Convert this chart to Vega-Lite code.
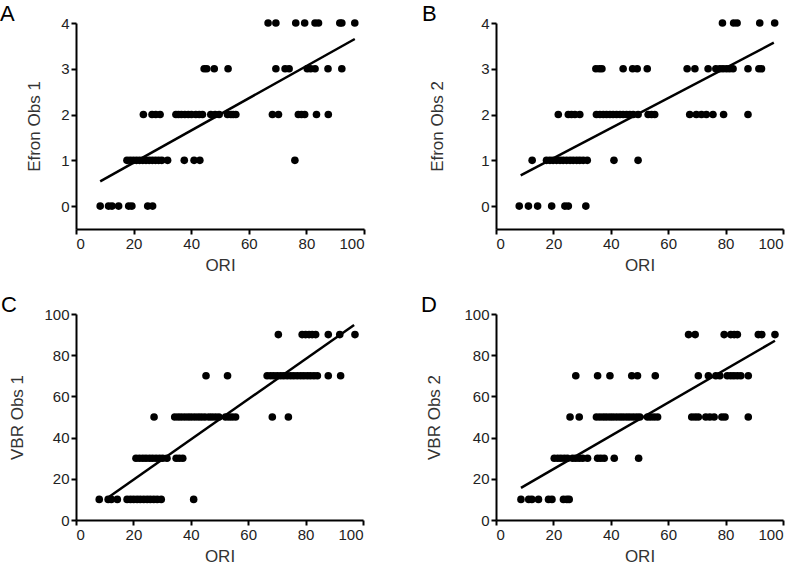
{
"$schema":"https://vega.github.io/schema/vega-lite/v6.json",
"padding":{"left":0,"top":3,"right":5,"bottom":5},
"background":"white",
"datasets":{
"A":[
{"x":66.7,"y":4},{"x":69.4,"y":4},{"x":76.3,"y":4},{"x":79.4,"y":4},{"x":83.0,"y":4},{"x":84.2,"y":4},{"x":91.6,"y":4},{"x":92.3,"y":4},{"x":96.8,"y":4},
{"x":44.5,"y":3},{"x":45.4,"y":3},{"x":48.0,"y":3},{"x":52.8,"y":3},{"x":69.4,"y":3},{"x":72.6,"y":3},{"x":74.0,"y":3},{"x":80.3,"y":3},{"x":81.5,"y":3},{"x":83.0,"y":3},{"x":87.5,"y":3},{"x":92.3,"y":3},
{"x":23.4,"y":2},{"x":26.4,"y":2},{"x":27.7,"y":2},{"x":29.2,"y":2},{"x":34.7,"y":2},{"x":35.6,"y":2},{"x":36.6,"y":2},{"x":37.8,"y":2},{"x":39.0,"y":2},{"x":40.1,"y":2},{"x":41.6,"y":2},{"x":42.8,"y":2},{"x":43.9,"y":2},{"x":46.8,"y":2},{"x":48.3,"y":2},{"x":49.7,"y":2},{"x":52.6,"y":2},{"x":53.8,"y":2},{"x":54.6,"y":2},{"x":55.5,"y":2},{"x":68.2,"y":2},{"x":70.3,"y":2},{"x":77.2,"y":2},{"x":78.3,"y":2},{"x":79.4,"y":2},{"x":83.5,"y":2},{"x":87.6,"y":2},
{"x":17.7,"y":1},{"x":18.8,"y":1},{"x":19.9,"y":1},{"x":21.0,"y":1},{"x":22.1,"y":1},{"x":23.2,"y":1},{"x":24.3,"y":1},{"x":25.4,"y":1},{"x":26.5,"y":1},{"x":27.6,"y":1},{"x":28.7,"y":1},{"x":29.8,"y":1},{"x":31.8,"y":1},{"x":37.6,"y":1},{"x":41.0,"y":1},{"x":43.0,"y":1},{"x":76.0,"y":1},
{"x":8.4,"y":0},{"x":11.3,"y":0},{"x":12.5,"y":0},{"x":14.8,"y":0},{"x":18.3,"y":0},{"x":19.4,"y":0},{"x":24.9,"y":0},{"x":26.6,"y":0}
],
"B":[
{"x":78.9,"y":4},{"x":82.8,"y":4},{"x":84.0,"y":4},{"x":91.9,"y":4},{"x":97.1,"y":4},
{"x":34.8,"y":3},{"x":36.0,"y":3},{"x":36.9,"y":3},{"x":44.3,"y":3},{"x":47.6,"y":3},{"x":49.2,"y":3},{"x":52.7,"y":3},{"x":66.6,"y":3},{"x":69.3,"y":3},{"x":73.9,"y":3},{"x":76.6,"y":3},{"x":78.0,"y":3},{"x":79.1,"y":3},{"x":80.3,"y":3},{"x":81.4,"y":3},{"x":82.6,"y":3},{"x":87.8,"y":3},{"x":91.6,"y":3},{"x":92.5,"y":3},
{"x":21.7,"y":2},{"x":25.2,"y":2},{"x":26.3,"y":2},{"x":27.5,"y":2},{"x":29.2,"y":2},{"x":35.0,"y":2},{"x":36.2,"y":2},{"x":37.4,"y":2},{"x":38.5,"y":2},{"x":39.7,"y":2},{"x":40.8,"y":2},{"x":42.0,"y":2},{"x":43.2,"y":2},{"x":44.3,"y":2},{"x":45.5,"y":2},{"x":46.6,"y":2},{"x":47.8,"y":2},{"x":49.5,"y":2},{"x":53.0,"y":2},{"x":54.2,"y":2},{"x":55.3,"y":2},{"x":67.5,"y":2},{"x":69.8,"y":2},{"x":71.6,"y":2},{"x":73.3,"y":2},{"x":75.6,"y":2},{"x":79.3,"y":2},{"x":87.8,"y":2},
{"x":12.6,"y":1},{"x":17.6,"y":1},{"x":18.8,"y":1},{"x":19.9,"y":1},{"x":21.1,"y":1},{"x":22.3,"y":1},{"x":23.4,"y":1},{"x":24.6,"y":1},{"x":25.8,"y":1},{"x":26.9,"y":1},{"x":28.1,"y":1},{"x":29.2,"y":1},{"x":30.4,"y":1},{"x":31.8,"y":1},{"x":41.1,"y":1},{"x":49.5,"y":1},
{"x":8.1,"y":0},{"x":11.3,"y":0},{"x":14.5,"y":0},{"x":19.4,"y":0},{"x":24.0,"y":0},{"x":25.2,"y":0},{"x":31.3,"y":0}
],
"C":[
{"x":70.5,"y":90},{"x":78.8,"y":90},{"x":80.0,"y":90},{"x":81.2,"y":90},{"x":82.3,"y":90},{"x":83.5,"y":90},{"x":87.9,"y":90},{"x":91.9,"y":90},{"x":97.2,"y":90},
{"x":45.3,"y":70},{"x":52.8,"y":70},{"x":66.6,"y":70},{"x":67.8,"y":70},{"x":68.9,"y":70},{"x":70.1,"y":70},{"x":71.3,"y":70},{"x":72.4,"y":70},{"x":73.6,"y":70},{"x":74.8,"y":70},{"x":75.9,"y":70},{"x":77.1,"y":70},{"x":78.3,"y":70},{"x":79.4,"y":70},{"x":80.6,"y":70},{"x":81.7,"y":70},{"x":82.9,"y":70},{"x":84.1,"y":70},{"x":87.9,"y":70},{"x":92.2,"y":70},
{"x":27.2,"y":50},{"x":34.4,"y":50},{"x":35.6,"y":50},{"x":36.7,"y":50},{"x":37.9,"y":50},{"x":39.1,"y":50},{"x":40.2,"y":50},{"x":41.4,"y":50},{"x":42.6,"y":50},{"x":43.7,"y":50},{"x":44.9,"y":50},{"x":46.3,"y":50},{"x":47.4,"y":50},{"x":48.6,"y":50},{"x":49.8,"y":50},{"x":52.1,"y":50},{"x":53.3,"y":50},{"x":54.4,"y":50},{"x":55.6,"y":50},{"x":68.4,"y":50},{"x":74.0,"y":50},
{"x":20.9,"y":30},{"x":22.1,"y":30},{"x":23.3,"y":30},{"x":24.4,"y":30},{"x":25.6,"y":30},{"x":26.7,"y":30},{"x":27.9,"y":30},{"x":29.1,"y":30},{"x":30.2,"y":30},{"x":31.7,"y":30},{"x":34.9,"y":30},{"x":36.0,"y":30},{"x":37.2,"y":30},
{"x":8.1,"y":10},{"x":11.2,"y":10},{"x":12.3,"y":10},{"x":14.4,"y":10},{"x":17.8,"y":10},{"x":19.0,"y":10},{"x":20.1,"y":10},{"x":21.3,"y":10},{"x":22.4,"y":10},{"x":23.6,"y":10},{"x":24.8,"y":10},{"x":25.9,"y":10},{"x":27.1,"y":10},{"x":28.3,"y":10},{"x":29.7,"y":10},{"x":41.0,"y":10}
],
"D":[
{"x":67.1,"y":90},{"x":69.4,"y":90},{"x":79.5,"y":90},{"x":81.8,"y":90},{"x":83.0,"y":90},{"x":84.1,"y":90},{"x":91.4,"y":90},{"x":92.6,"y":90},{"x":97.2,"y":90},
{"x":27.8,"y":70},{"x":35.4,"y":70},{"x":39.7,"y":70},{"x":47.3,"y":70},{"x":49.3,"y":70},{"x":55.5,"y":70},{"x":70.5,"y":70},{"x":74.0,"y":70},{"x":76.6,"y":70},{"x":78.0,"y":70},{"x":80.6,"y":70},{"x":81.8,"y":70},{"x":82.9,"y":70},{"x":84.1,"y":70},{"x":85.3,"y":70},{"x":87.9,"y":70},
{"x":25.8,"y":50},{"x":29.0,"y":50},{"x":35.0,"y":50},{"x":36.2,"y":50},{"x":37.4,"y":50},{"x":38.5,"y":50},{"x":39.7,"y":50},{"x":40.8,"y":50},{"x":42.0,"y":50},{"x":43.2,"y":50},{"x":44.3,"y":50},{"x":45.5,"y":50},{"x":46.6,"y":50},{"x":47.8,"y":50},{"x":49.0,"y":50},{"x":50.1,"y":50},{"x":52.8,"y":50},{"x":53.9,"y":50},{"x":55.1,"y":50},{"x":56.3,"y":50},{"x":68.2,"y":50},{"x":69.4,"y":50},{"x":70.5,"y":50},{"x":73.1,"y":50},{"x":74.5,"y":50},{"x":76.0,"y":50},{"x":78.7,"y":50},{"x":79.8,"y":50},{"x":87.9,"y":50},
{"x":20.3,"y":30},{"x":21.5,"y":30},{"x":22.6,"y":30},{"x":23.8,"y":30},{"x":24.9,"y":30},{"x":26.7,"y":30},{"x":27.8,"y":30},{"x":29.0,"y":30},{"x":30.2,"y":30},{"x":31.9,"y":30},{"x":35.4,"y":30},{"x":36.5,"y":30},{"x":37.7,"y":30},{"x":41.2,"y":30},{"x":49.7,"y":30},
{"x":8.7,"y":10},{"x":11.4,"y":10},{"x":12.5,"y":10},{"x":14.8,"y":10},{"x":18.3,"y":10},{"x":19.5,"y":10},{"x":23.5,"y":10},{"x":24.7,"y":10},{"x":25.5,"y":10}
],
"LA":[{"x":8.4,"y":0.54},{"x":96.8,"y":3.65}],
"LB":[{"x":8.6,"y":0.67},{"x":96.8,"y":3.57}],
"LC":[{"x":11.2,"y":10.9},{"x":96.9,"y":94.7}],
"LD":[{"x":8.7,"y":15.6},{"x":97.2,"y":87.0}]
},
"columns":2,
"spacing":{"row":21,"column":56},
"concat":[
{"title":{"text":"A","dx":-76},"width":288,"height":206,
 "layer":[
  {"data":{"name":"A"},"mark":{"type":"circle","size":58,"color":"#000","opacity":1},
   "encoding":{"x":{"field":"x","type":"quantitative","scale":{"domain":[0,100],"nice":false},"axis":{"values":[0,20,40,60,80,100],"title":"ORI"}},
   "y":{"field":"y","type":"quantitative","scale":{"domain":[-0.5,4],"nice":false,"zero":false},"axis":{"values":[0,1,2,3,4],"title":"Efron Obs 1","titlePadding":17}}}},
  {"data":{"name":"LA"},"mark":{"type":"line","color":"#000","strokeWidth":2.5},
   "encoding":{"x":{"field":"x","type":"quantitative"},"y":{"field":"y","type":"quantitative"}}}
 ]},
{"title":{"text":"B","dx":-74},"width":287,"height":206,
 "layer":[
  {"data":{"name":"B"},"mark":{"type":"circle","size":58,"color":"#000","opacity":1},
   "encoding":{"x":{"field":"x","type":"quantitative","scale":{"domain":[0,100],"nice":false},"axis":{"values":[0,20,40,60,80,100],"title":"ORI"}},
   "y":{"field":"y","type":"quantitative","scale":{"domain":[-0.5,4],"nice":false,"zero":false},"axis":{"values":[0,1,2,3,4],"title":"Efron Obs 2","titlePadding":34}}}},
  {"data":{"name":"LB"},"mark":{"type":"line","color":"#000","strokeWidth":2.5},
   "encoding":{"x":{"field":"x","type":"quantitative"},"y":{"field":"y","type":"quantitative"}}}
 ]},
{"title":{"text":"C","dx":-75},"width":287,"height":206,
 "layer":[
  {"data":{"name":"C"},"mark":{"type":"circle","size":58,"color":"#000","opacity":1},
   "encoding":{"x":{"field":"x","type":"quantitative","scale":{"domain":[0,100],"nice":false},"axis":{"values":[0,20,40,60,80,100],"title":"ORI"}},
   "y":{"field":"y","type":"quantitative","scale":{"domain":[0,100],"nice":false},"axis":{"values":[0,20,40,60,80,100],"title":"VBR Obs 1","titlePadding":17}}}},
  {"data":{"name":"LC"},"mark":{"type":"line","color":"#000","strokeWidth":2.5},
   "encoding":{"x":{"field":"x","type":"quantitative"},"y":{"field":"y","type":"quantitative"}}}
 ]},
{"title":{"text":"D","dx":-75},"width":287,"height":206,
 "layer":[
  {"data":{"name":"D"},"mark":{"type":"circle","size":58,"color":"#000","opacity":1},
   "encoding":{"x":{"field":"x","type":"quantitative","scale":{"domain":[0,100],"nice":false},"axis":{"values":[0,20,40,60,80,100],"title":"ORI"}},
   "y":{"field":"y","type":"quantitative","scale":{"domain":[0,100],"nice":false},"axis":{"values":[0,20,40,60,80,100],"title":"VBR Obs 2","titlePadding":20}}}},
  {"data":{"name":"LD"},"mark":{"type":"line","color":"#000","strokeWidth":2.5},
   "encoding":{"x":{"field":"x","type":"quantitative"},"y":{"field":"y","type":"quantitative"}}}
 ]}
],
"config":{
 "view":{"stroke":null},
 "axis":{"grid":false,"domainColor":"#000","domainWidth":2,"tickColor":"#000","tickWidth":2,"tickSize":5,"labelFont":"Liberation Sans","labelFontSize":15,"labelColor":"#222","labelPadding":2,"titleFont":"Liberation Sans","titleFontSize":17,"titleFontWeight":"normal","titleColor":"#333"},
 "axisX":{"titlePadding":6},
 "title":{"font":"Liberation Sans","fontSize":22,"fontWeight":"normal","anchor":"start","frame":"group","color":"#000","offset":-10}
}
}
